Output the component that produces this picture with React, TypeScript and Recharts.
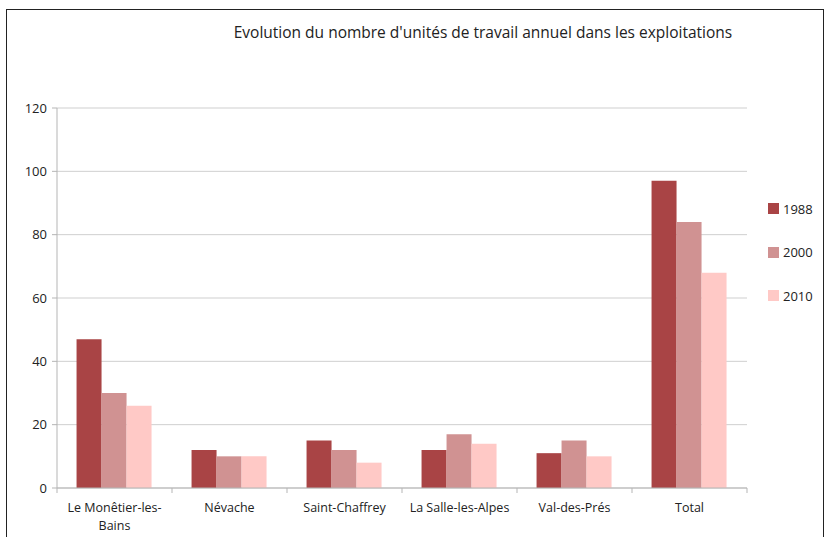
import { BarChart, Bar, XAxis, YAxis, CartesianGrid } from 'recharts';

const communes = ['Le Monêtier-les-Bains', 'Névache', 'Saint-Chaffrey', 'La Salle-les-Alpes', 'Val-des-Prés', 'Total'];
const uta1988 = [47, 12, 15, 12, 11, 97];
const uta2000 = [30, 10, 12, 17, 15, 84];
const uta2010 = [26, 10, 8, 14, 10, 68];
const yTicks = [0, 20, 40, 60, 80, 100, 120];

const series = [
  { key: 'y1988', label: '1988', color: '#a94445' },
  { key: 'y2000', label: '2000', color: '#d09292' },
  { key: 'y2010', label: '2010', color: '#ffc9c6' },
];

const data = communes.map((name, i) => ({
  name,
  y1988: uta1988[i],
  y2000: uta2000[i],
  y2010: uta2010[i],
}));

const FONT = '"Open Sans", "DejaVu Sans", sans-serif';

// long names break after the last hyphen, like the original
function splitLabel(label: string): string[] {
  if (label.length <= 18) return [label];
  const cut = label.lastIndexOf('-');
  if (cut < 0) return [label];
  return [label.slice(0, cut + 1), label.slice(cut + 1)];
}

const CategoryTick = (props: any) => {
  const { x, y, payload, bandSize } = props;
  const lines = splitLabel(payload.value);
  const half = (bandSize ?? 115) / 2;
  return (
    <g>
      <line x1={x - half} y1={y - 8} x2={x - half} y2={y - 3} stroke="#b5b5b5" />
      {payload.index === communes.length - 1 && (
        <line x1={x + half} y1={y - 8} x2={x + half} y2={y - 3} stroke="#b5b5b5" />
      )}
      <text x={x} y={y + 16} textAnchor="middle" fontSize={12.5} fill="#222" fontFamily={FONT}>
        {lines.map((l, i) => (
          <tspan key={i} x={x} dy={i === 0 ? 0 : 18}>{l}</tspan>
        ))}
      </text>
    </g>
  );
};

export default function App() {
  return (
    <div style={{ position: 'absolute', left: 0, top: 0, width: 827, height: 537, background: '#fff', fontFamily: FONT }}>
      <div style={{ position: 'absolute', left: 6, top: 9, width: 816, height: 540, borderTop: '1px solid #222', borderLeft: '1px solid #222', borderRight: '1px solid #222' }} />
      <div style={{ position: 'absolute', left: 0, width: 966, top: 21, textAlign: 'center', fontSize: 15.5, color: '#222' }}>
        Evolution du nombre d'unités de travail annuel dans les exploitations
      </div>
      <div style={{ position: 'absolute', left: 0, top: 0 }}>
        <BarChart
          width={827}
          height={537}
          data={data}
          margin={{ top: 108, right: 80, bottom: 0, left: 0 }}
          barCategoryGap="17%"
          barGap={0}
        >
          <CartesianGrid vertical={false} stroke="#cfcfcf" />
          <XAxis
            dataKey="name"
            stroke="#b5b5b5"
            tickLine={false}
            interval={0}
            height={49}
            tick={<CategoryTick bandSize={115} />}
          />
          <YAxis
            domain={[0, 120]}
            ticks={yTicks}
            width={57}
            stroke="#b5b5b5"
            tickSize={5}
            tickMargin={5}
            tick={{ fontSize: 13, fill: '#222', fontFamily: FONT }}
          />
          {series.map((s) => (
            <Bar key={s.key} dataKey={s.key} name={s.label} fill={s.color} isAnimationActive={false} />
          ))}
        </BarChart>
      </div>
      <div style={{ position: 'absolute', left: 768, top: 187 }}>
        {series.map((s) => (
          <div key={s.key} style={{ display: 'flex', alignItems: 'center', height: 43.5, fontSize: 13, color: '#222' }}>
            <span style={{ width: 11, height: 11, background: s.color, marginRight: 4, display: 'inline-block' }} />
            {s.label}
          </div>
        ))}
      </div>
    </div>
  );
}
